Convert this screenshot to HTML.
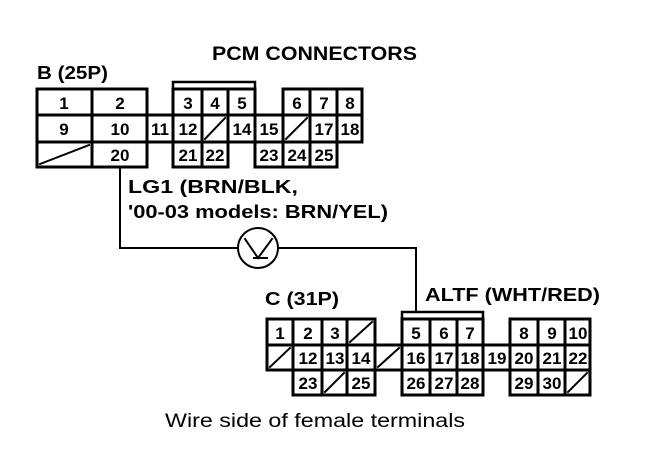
<!DOCTYPE html>
<html><head><meta charset="utf-8"><style>
html,body{margin:0;padding:0;background:#fff;}
svg{display:block;}
.n{font-family:"Liberation Sans",Arial,sans-serif;font-size:17px;font-weight:bold;text-anchor:middle;fill:#000;}
.b{font-family:"Liberation Sans",Arial,sans-serif;font-weight:bold;fill:#000;}
</style></head><body>
<svg width="672" height="456" viewBox="0 0 672 456" xmlns="http://www.w3.org/2000/svg">
<g fill="none" stroke="#000" stroke-width="3" stroke-linecap="square">
<polyline points="173,90 173,82 255,82 255,90" stroke-width="2.5"/>
<rect x="37" y="89" width="110" height="26"/>
<line x1="92" y1="89" x2="92" y2="115"/>
<rect x="173" y="89" width="82" height="26"/>
<line x1="202" y1="89" x2="202" y2="115"/><line x1="228" y1="89" x2="228" y2="115"/>
<rect x="283" y="89" width="79" height="26"/>
<line x1="310" y1="89" x2="310" y2="115"/><line x1="337" y1="89" x2="337" y2="115"/>
<rect x="37" y="115" width="325" height="27"/>
<line x1="92" y1="115" x2="92" y2="142"/><line x1="147" y1="115" x2="147" y2="167"/>
<line x1="173" y1="115" x2="173" y2="142"/><line x1="202" y1="115" x2="202" y2="142"/>
<line x1="228" y1="115" x2="228" y2="142"/><line x1="255" y1="115" x2="255" y2="142"/>
<line x1="283" y1="115" x2="283" y2="142"/><line x1="310" y1="115" x2="310" y2="142"/>
<line x1="337" y1="115" x2="337" y2="142"/>
<rect x="37" y="142" width="110" height="25"/>
<line x1="92" y1="142" x2="92" y2="167"/>
<rect x="173" y="142" width="55" height="25"/>
<line x1="202" y1="142" x2="202" y2="167"/>
<rect x="255" y="142" width="82" height="25"/>
<line x1="283" y1="142" x2="283" y2="167"/><line x1="310" y1="142" x2="310" y2="167"/>
<g stroke-width="2">
<line x1="40" y1="164" x2="89" y2="145"/>
<line x1="205" y1="139" x2="225" y2="118"/>
<line x1="286" y1="139" x2="307" y2="118"/>
</g>
<polyline points="120,167 120,248 238,248" stroke-width="2"/>
<polyline points="278,248 416,248 416,312" stroke-width="2"/>
<circle cx="258" cy="248" r="20" stroke-width="2"/>
<polyline points="245,239 258,258 272,239" stroke-width="2"/>
<line x1="254" y1="258" x2="267" y2="258" stroke-width="2"/>
<polyline points="402,319 402,312 483,312 483,319" stroke-width="2.5"/>
<rect x="267" y="319" width="108" height="26"/>
<line x1="293" y1="319" x2="293" y2="345"/><line x1="322" y1="319" x2="322" y2="345"/><line x1="347" y1="319" x2="347" y2="345"/>
<rect x="402" y="319" width="81" height="26"/>
<line x1="430" y1="319" x2="430" y2="345"/><line x1="457" y1="319" x2="457" y2="345"/>
<rect x="510" y="319" width="80" height="26"/>
<line x1="538" y1="319" x2="538" y2="345"/><line x1="565" y1="319" x2="565" y2="345"/>
<rect x="267" y="345" width="323" height="25"/>
<line x1="293" y1="345" x2="293" y2="395"/><line x1="322" y1="345" x2="322" y2="370"/>
<line x1="347" y1="345" x2="347" y2="370"/><line x1="375" y1="345" x2="375" y2="395"/>
<line x1="402" y1="345" x2="402" y2="370"/><line x1="430" y1="345" x2="430" y2="370"/>
<line x1="457" y1="345" x2="457" y2="370"/><line x1="483" y1="345" x2="483" y2="370"/>
<line x1="510" y1="345" x2="510" y2="370"/><line x1="538" y1="345" x2="538" y2="370"/>
<line x1="565" y1="345" x2="565" y2="370"/>
<rect x="293" y="370" width="82" height="25"/>
<line x1="322" y1="370" x2="322" y2="395"/><line x1="347" y1="370" x2="347" y2="395"/>
<rect x="402" y="370" width="81" height="25"/>
<line x1="430" y1="370" x2="430" y2="395"/><line x1="457" y1="370" x2="457" y2="395"/>
<rect x="510" y="370" width="80" height="25"/>
<line x1="538" y1="370" x2="538" y2="395"/><line x1="565" y1="370" x2="565" y2="395"/>
<g stroke-width="2">
<line x1="350" y1="342" x2="372" y2="322"/>
<line x1="270" y1="367" x2="290" y2="348"/>
<line x1="378" y1="367" x2="399" y2="348"/>
<line x1="325" y1="392" x2="344" y2="373"/>
<line x1="568" y1="392" x2="587" y2="373"/>
</g>
</g>
<text class="b" x="212" y="60" font-size="19" textLength="205" lengthAdjust="spacingAndGlyphs">PCM CONNECTORS</text>
<text class="b" x="37" y="79" font-size="18" textLength="71" lengthAdjust="spacingAndGlyphs">B (25P)</text>
<text class="b" x="128" y="193" font-size="18" textLength="170" lengthAdjust="spacingAndGlyphs">LG1 (BRN/BLK,</text>
<text class="b" x="128" y="218" font-size="18" textLength="260" lengthAdjust="spacingAndGlyphs">'00-03 models: BRN/YEL)</text>
<text class="b" x="265" y="305" font-size="18" textLength="74" lengthAdjust="spacingAndGlyphs">C (31P)</text>
<text class="b" x="425" y="301" font-size="18" textLength="175" lengthAdjust="spacingAndGlyphs">ALTF (WHT/RED)</text>
<text x="165" y="427" font-family="Liberation Sans,Arial,sans-serif" font-size="19" textLength="300" lengthAdjust="spacingAndGlyphs">Wire side of female terminals</text>
<g class="n">
<text x="64" y="109">1</text><text x="120" y="109">2</text>
<text x="188" y="109">3</text><text x="215" y="109">4</text><text x="242" y="109">5</text>
<text x="297" y="109">6</text><text x="324" y="109">7</text><text x="350" y="109">8</text>
<text x="64" y="135">9</text><text x="120" y="135">10</text><text x="160" y="135">11</text>
<text x="188" y="135">12</text><text x="242" y="135">14</text><text x="269" y="135">15</text>
<text x="324" y="135">17</text><text x="350" y="135">18</text>
<text x="120" y="161">20</text><text x="188" y="161">21</text><text x="215" y="161">22</text>
<text x="269" y="161">23</text><text x="297" y="161">24</text><text x="324" y="161">25</text>
<text x="280" y="339">1</text><text x="308" y="339">2</text><text x="335" y="339">3</text>
<text x="416" y="339">5</text><text x="444" y="339">6</text><text x="470" y="339">7</text>
<text x="524" y="339">8</text><text x="552" y="339">9</text><text x="578" y="339">10</text>
<text x="308" y="364">12</text><text x="335" y="364">13</text><text x="361" y="364">14</text>
<text x="416" y="364">16</text><text x="444" y="364">17</text><text x="470" y="364">18</text>
<text x="497" y="364">19</text><text x="524" y="364">20</text><text x="552" y="364">21</text><text x="578" y="364">22</text>
<text x="308" y="389">23</text><text x="361" y="389">25</text>
<text x="416" y="389">26</text><text x="444" y="389">27</text><text x="470" y="389">28</text>
<text x="524" y="389">29</text><text x="552" y="389">30</text>
</g>
</svg>
</body></html>
